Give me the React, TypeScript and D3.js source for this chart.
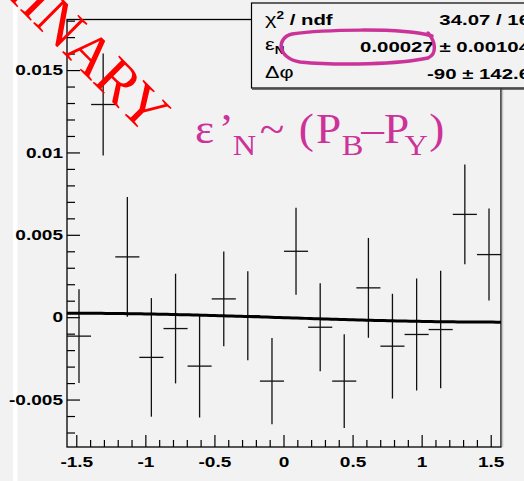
import React from "react";
import * as d3 from "d3";

// bin centres in phi (rad), 18 bins of 10 deg
const phiBins = [
  -1.484, -1.309, -1.134, -0.96, -0.785, -0.611, -0.436, -0.262, -0.087, 0.087,
  0.262, 0.436, 0.611, 0.785, 0.96, 1.134, 1.309, 1.484,
];
const asym = [
  -0.00112, 0.01294, 0.00369, -0.00241, -0.00066, -0.00294, 0.00114, 0.00012,
  -0.00385, 0.00403, -0.00058, -0.00385, 0.00181, -0.00173, -0.00102, -0.00072,
  0.00627, 0.00383,
];
const asymErr = [
  0.00285, 0.0031, 0.00364, 0.0036, 0.00333, 0.00312, 0.00288, 0.0027, 0.00262,
  0.00264, 0.00267, 0.00285, 0.00303, 0.00318, 0.0034, 0.00357, 0.00303, 0.00279,
];
const binHalfWidth = Math.PI / 36;

const xTickLabels = [-1.5, -1, -0.5, 0, 0.5, 1, 1.5];
const yTickLabels = [0.015, 0.01, 0.005, 0, -0.005];

// fit: eps_N * cos(phi - dphi)
const fitEpsN = 0.00027;
const fitDPhiDeg = -90;
const statValues = ["34.07 / 16", "0.00027 \u00b1 0.00104", "-90 \u00b1 142.6"];

const W = 524;
const H = 481;
const margin = { top: 19.5, right: 23, bottom: 34, left: 67 };

const magenta = "#cc3399";

export default function App() {
  const x = d3
    .scaleLinear()
    .domain([-Math.PI / 2, Math.PI / 2])
    .range([margin.left, W - margin.right]);
  const y = d3
    .scaleLinear()
    .domain([-0.00785, 0.0181])
    .range([H - margin.bottom, margin.top]);

  const x0 = margin.left;
  const x1 = W - margin.right;
  const y0 = H - margin.bottom;
  const y1 = margin.top;

  const xMinor = d3.range(-15, 16).map((i) => i / 10);
  const yMinor = d3.range(-7, 19).map((i) => i / 1000);

  const fitLine = d3
    .line<number>()
    .x((p) => x(p))
    .y((p) => y(fitEpsN * Math.cos(p - (fitDPhiDeg * Math.PI) / 180)));
  const fitPts = d3.range(0, 101).map((i) => -Math.PI / 2 + (Math.PI * i) / 100);

  const sx = 1.36;
  const bold = { fontFamily: "Liberation Sans, Arial, sans-serif", fontWeight: 700 };

  return (
    <svg
      width={W}
      height={H}
      style={{ position: "absolute", left: 0, top: 0 }}
    >
      <rect width={W} height={H} fill="#f2f2f2" />
      <rect x={13} y={0} width={4.5} height={H} fill="#ffffff" />

      {/* frame */}
      <rect
        x={x0}
        y={y1}
        width={x1 - x0}
        height={y0 - y1}
        fill="none"
        stroke="#000"
        strokeWidth={1.3}
      />
      <line x1={x1 + 1.5} x2={x1 + 1.5} y1={y1} y2={y0} stroke="#c8c8c8" strokeWidth={1.5} />

      {/* y ticks */}
      {yMinor.map((v) => {
        const major = Math.abs((v * 1000) % 5) < 1e-6;
        return (
          <line
            key={"yt" + v}
            x1={x0}
            x2={x0 + (major ? 13 : 8)}
            y1={y(v)}
            y2={y(v)}
            stroke="#000"
            strokeWidth={1.2}
          />
        );
      })}
      {/* x ticks */}
      {xMinor.map((v) => {
        const major = Math.abs((v * 10) % 5) < 1e-6;
        return (
          <line
            key={"xt" + v}
            x1={x(v)}
            x2={x(v)}
            y1={y0}
            y2={y0 - (major ? 12 : 7)}
            stroke="#000"
            strokeWidth={1.2}
          />
        );
      })}

      {yTickLabels.map((v) => (
        <g key={"yl" + v} transform={`translate(63,${y(v)}) scale(${sx},1)`}>
          <text
            textAnchor="end"
            dominantBaseline="central"
            fontSize={14}
            fill="#000"
            style={bold}
          >
            {String(v)}
          </text>
        </g>
      ))}
      {xTickLabels.map((v) => (
        <g key={"xl" + v} transform={`translate(${x(v)},467) scale(${sx},1)`}>
          <text textAnchor="middle" fontSize={14} fill="#000" style={bold}>
            {String(v)}
          </text>
        </g>
      ))}
      <g transform={`translate(503,492) scale(${sx},1)`}>
        <text textAnchor="end" fontSize={16} fill="#000" style={bold}>
          φ
        </text>
      </g>

      {/* data points */}
      {phiBins.map((p, i) => (
        <g key={"pt" + i} stroke="#111" strokeWidth={1.3}>
          <line x1={x(p)} x2={x(p)} y1={y(asym[i] - asymErr[i])} y2={y(asym[i] + asymErr[i])} />
          <line
            x1={x(p - binHalfWidth)}
            x2={x(p + binHalfWidth)}
            y1={y(asym[i])}
            y2={y(asym[i])}
          />
        </g>
      ))}

      {/* fit */}
      <path d={fitLine(fitPts) ?? ""} fill="none" stroke="#000" strokeWidth={3} />

      {/* stats box */}
      <rect x={251.5} y={3} width={320} height={85} fill="#f2f2f2" stroke="#000" strokeWidth={1.2} />
      <line x1={252} x2={W} y1={89} y2={89} stroke="#444" strokeWidth={1.5} />
      <g transform={`translate(265,25) scale(${sx},1)`}>
        <text fontSize={15} fill="#000" style={bold}>
          <tspan style={{ fontWeight: 400 }} fontSize={16}>χ</tspan>
          <tspan fontSize={10} dy={-6}>2</tspan>
          <tspan dy={6}> / ndf</tspan>
        </text>
      </g>
      <g transform={`translate(265,50) scale(${sx},1)`}>
        <text fontSize={15} fill="#000" style={bold}>
          <tspan style={{ fontWeight: 400 }} fontSize={16}>ε</tspan>
          <tspan fontSize={10} dy={4}>N</tspan>
        </text>
      </g>
      <g transform={`translate(265,78) scale(${sx},1)`}>
        <text fontSize={15} fill="#000" style={bold}>
          <tspan style={{ fontWeight: 400 }} fontSize={16}>Δφ</tspan>
        </text>
      </g>
      {statValues.map((s, i) => (
        <g key={"sv" + i} transform={`translate(530,${25 + i * 27}) scale(${sx},1)`}>
          <text textAnchor="end" fontSize={15} fill="#000" style={bold}>
            {s}
          </text>
        </g>
      ))}
      <path
        d="M 432 36 C 400 27, 320 30, 292 34 C 276 38, 277 58, 300 62 C 340 66, 400 64, 428 58 C 437 54, 436 42, 428 33"
        fill="none"
        stroke={magenta}
        strokeWidth={3.5}
        strokeLinecap="round"
      />

      {/* annotation */}
      <g transform="translate(195,143) scale(1.08,1)">
        <text fill={magenta} fontFamily="Liberation Serif, Times New Roman, serif" fontSize={42}>
          <tspan x={0} y={0}>ε</tspan>
          <tspan x={22} y={0}>’</tspan>
          <tspan x={35} y={12} fontSize={30}>N</tspan>
          <tspan x={60} y={0}>~</tspan>
          <tspan x={96} y={0}>(</tspan>
          <tspan x={112} y={0}>P</tspan>
          <tspan x={136} y={12} fontSize={30}>B</tspan>
          <tspan x={154} y={0}>–</tspan>
          <tspan x={175} y={0}>P</tspan>
          <tspan x={194} y={12} fontSize={30}>Y</tspan>
          <tspan x={217} y={0}>)</tspan>
        </text>
      </g>

      {/* preliminary stamp */}
      <text
        transform="translate(146,136) rotate(45)"
        textAnchor="end"
        fill="#ff0000"
        fontFamily="Liberation Serif, Times New Roman, serif"
        fontSize={58}
      >
        PRELIMINARY
      </text>
    </svg>
  );
}
